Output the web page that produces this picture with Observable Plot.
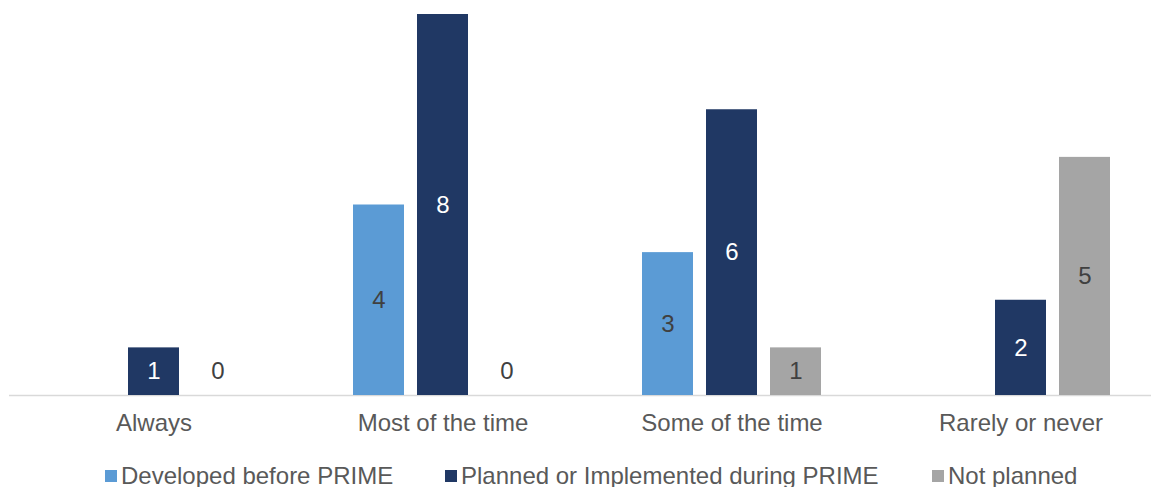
<!DOCTYPE html>
<html><head><meta charset="utf-8">
<script src="https://cdn.jsdelivr.net/npm/d3@7"></script>
<script src="https://cdn.jsdelivr.net/npm/@observablehq/plot@0.6"></script>
<style>
html,body{margin:0;padding:0;background:#fff;}
body{width:1151px;height:487px;overflow:hidden;font-family:"Liberation Sans",Arial,sans-serif;position:relative;}
#legend{position:relative;height:25px;font-size:24px;color:#595959;white-space:nowrap;line-height:normal;}
.item{position:absolute;top:0;display:flex;align-items:center;}
.sw{width:12px;height:12px;margin-right:4px;flex:none;}
</style></head><body>
<div id="chart"></div>
<div id="legend"></div>
<script>
const categories = ["Always", "Most of the time", "Some of the time", "Rarely or never"];
const seriesNames = ["Developed before PRIME", "Planned or Implemented during PRIME", "Not planned"];
const developed = [null, 4, 3, null];
const planned = [1, 8, 6, 2];
const notPlanned = [0, 0, 1, 5];
const colors = ["#5B9BD5", "#203864", "#A5A5A5"];
const legendLeft = [105, 445, 932];

const seriesValues = [developed, planned, notPlanned];
const data = [];
categories.forEach((c, i) => {
  seriesValues.forEach((arr, j) => {
    if (arr[i] != null) data.push({category: c, series: seriesNames[j], value: arr[i]});
  });
});

const plot = Plot.plot({
  width: 1151, height: 462,
  marginTop: 14, marginBottom: 67, marginLeft: 0, marginRight: 0,
  style: {fontFamily: '"Liberation Sans", Arial, sans-serif', fontSize: "24px", color: "#595959", background: "#fff"},
  fx: {domain: categories, range: [9, 1165], padding: 0, label: null, axis: "bottom", tickSize: 0, tickPadding: 18},
  x: {domain: seriesNames, range: [48.5, 240.5], paddingInner: 13/64, paddingOuter: 13/128, axis: null},
  y: {domain: [0, 8], axis: null},
  color: {domain: seriesNames, range: colors},
  marks: [
    Plot.ruleY([0], {stroke: "#D9D9D9", strokeWidth: 1.5}),
    Plot.barY(data, {fx: "category", x: "series", y: "value", fill: "series"}),
    Plot.text(data.filter(d => d.series === seriesNames[1]), {fx: "category", x: "series", y: d => Math.max(d.value / 2, 0.5), text: d => String(d.value), fill: "#ffffff", fontSize: 24}),
    Plot.text(data.filter(d => d.series !== seriesNames[1]), {fx: "category", x: "series", y: d => Math.max(d.value / 2, 0.5), text: d => String(d.value), fill: "#404040", fontSize: 24})
  ]
});
document.getElementById("chart").appendChild(plot);

const legend = document.getElementById("legend");
seriesNames.forEach((s, i) => {
  const item = document.createElement("div");
  item.className = "item";
  item.style.left = legendLeft[i] + "px";
  const sw = document.createElement("span");
  sw.className = "sw";
  sw.style.background = colors[i];
  const t = document.createElement("span");
  t.textContent = s;
  item.appendChild(sw); item.appendChild(t);
  legend.appendChild(item);
});
</script>
</body></html>
